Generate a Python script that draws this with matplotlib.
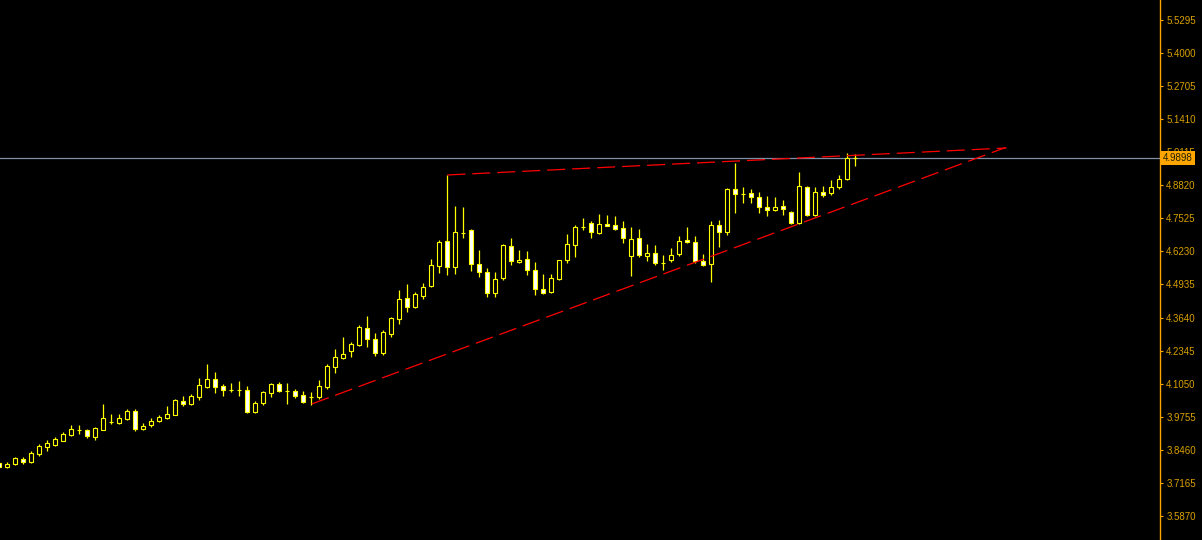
import numpy as np
import matplotlib
matplotlib.use('Agg')
import matplotlib.pyplot as plt
import matplotlib.transforms as mtransforms

plt.rcParams['lines.scale_dashes'] = False

# OHLC, one entry per candle (left to right)
opens = [3.7931, 3.7774, 3.7892, 3.8099, 3.7970, 3.8307, 3.8581, 3.8659, 3.8816, 3.9027,
         3.9235, 3.9223, 3.8961, 3.9247, 3.9548, 3.9509, 3.9666, 3.9979, 3.9286, 3.9443,
         3.9599, 3.9717, 3.9834, 4.0371, 4.0265, 4.0539, 4.0931, 4.1221, 4.0958, 4.0802,
         4.0802, 4.0802, 3.9928, 4.0281, 4.0672, 4.1037, 4.0763, 4.0763, 4.0606, 4.0528,
         4.0528, 4.0931, 4.1714, 4.2067, 4.2341, 4.2564, 4.3218, 4.2788, 4.2263, 4.3007,
         4.3595, 4.4394, 4.4041, 4.4495, 4.4864, 4.5671, 4.6626, 4.5631, 4.6963, 4.7057,
         4.5725, 4.5412, 4.4589, 4.5177, 4.6430, 4.5804, 4.5921, 4.5490, 4.4746, 4.4628,
         4.5138, 4.5882, 4.6470, 4.7198, 4.7331, 4.6940, 4.7292, 4.7253, 4.7135, 4.6039,
         4.6744, 4.6039, 4.6156, 4.5764, 4.5882, 4.6117, 4.6666, 4.6587, 4.5843, 4.5725,
         4.7253, 4.6979, 4.8663, 4.8467, 4.8506, 4.8350, 4.7958, 4.7841, 4.7997, 4.7762,
         4.7331, 4.8742, 4.7645, 4.8546, 4.8506, 4.8742, 4.9055, 4.9877]
highs = [3.7981, 3.7981, 3.8177, 3.8177, 3.8412, 3.8675, 3.8843, 3.8961, 3.9157, 3.9431,
         3.9431, 3.9274, 3.9364, 4.0253, 3.9862, 3.9862, 4.0057, 4.0057, 3.9497, 3.9705,
         3.9822, 4.0175, 4.0461, 4.0567, 4.0633, 4.1272, 4.1820, 4.1507, 4.1037, 4.1076,
         4.1154, 4.0958, 4.0371, 4.0763, 4.1076, 4.1115, 4.1076, 4.0841, 4.0763, 4.0723,
         4.1193, 4.1820, 4.2408, 4.2878, 4.2670, 4.3336, 4.3688, 4.3023, 4.3140, 4.3649,
         4.4707, 4.4942, 4.4629, 4.4981, 4.5933, 4.6677, 4.9223, 4.7997, 4.7958, 4.7089,
         4.6285, 4.5569, 4.5412, 4.6509, 4.6744, 4.6285, 4.6235, 4.5804, 4.5334, 4.5334,
         4.5913, 4.6900, 4.7253, 4.7527, 4.7410, 4.7684, 4.7656, 4.7605, 4.7410, 4.7175,
         4.7096, 4.6509, 4.6470, 4.6078, 4.6352, 4.6822, 4.7175, 4.6822, 4.6117, 4.7410,
         4.7449, 4.8702, 4.9693, 4.8742, 4.8663, 4.8546, 4.8389, 4.8350, 4.8232, 4.7801,
         4.9329, 4.8781, 4.8742, 4.8781, 4.9016, 4.9212, 5.0073, 5.0034]
lows = [3.7746, 3.7746, 3.7864, 3.7915, 3.7942, 3.8228, 3.8424, 3.8608, 3.8804, 3.9000,
        3.9078, 3.8933, 3.8843, 3.9235, 3.9470, 3.9470, 3.9627, 3.9207, 3.9235, 3.9364,
        3.9560, 3.9685, 3.9822, 4.0187, 4.0214, 4.0410, 4.0892, 4.0696, 4.0567, 4.0712,
        4.0578, 3.9901, 3.9901, 4.0214, 4.0539, 4.0723, 4.0265, 4.0488, 4.0292, 4.0214,
        4.0437, 4.0853, 4.1479, 4.2016, 4.2094, 4.2525, 4.2498, 4.2145, 4.2184, 4.2889,
        4.3399, 4.3869, 4.4002, 4.4378, 4.4824, 4.5373, 4.5306, 4.5357, 4.6767, 4.5475,
        4.5240, 4.4433, 4.4456, 4.5122, 4.5710, 4.5764, 4.5318, 4.4511, 4.4562, 4.4589,
        4.5110, 4.5764, 4.6000, 4.7057, 4.6744, 4.6900, 4.7214, 4.7057, 4.6548, 4.5279,
        4.6000, 4.5843, 4.5686, 4.5490, 4.5804, 4.6039, 4.6548, 4.5764, 4.5647, 4.5044,
        4.6391, 4.6861, 4.7747, 4.8115, 4.8138, 4.7723, 4.7605, 4.7801, 4.7645, 4.7292,
        4.7292, 4.7605, 4.7605, 4.8350, 4.8428, 4.8663, 4.9016, 4.9564]
closes = [3.7797, 3.7903, 3.8138, 3.7970, 3.8322, 3.8608, 3.8726, 3.8882, 3.9078, 3.9262,
          3.9235, 3.8988, 3.9313, 3.9705, 3.9548, 3.9705, 3.9979, 3.9286, 3.9392, 3.9587,
          3.9744, 3.9862, 4.0410, 4.0265, 4.0555, 4.0998, 4.1221, 4.0931, 4.0813, 4.0802,
          4.0802, 3.9928, 4.0292, 4.0723, 4.1037, 4.0774, 4.0763, 4.0567, 4.0320, 4.0528,
          4.0958, 4.1742, 4.2094, 4.2200, 4.2592, 4.3258, 4.2811, 4.2263, 4.3062, 4.3610,
          4.4354, 4.4065, 4.4550, 4.4824, 4.5686, 4.6587, 4.5631, 4.6979, 4.6963, 4.5725,
          4.5412, 4.4589, 4.5138, 4.6470, 4.5843, 4.5882, 4.5490, 4.4746, 4.4589, 4.5177,
          4.5882, 4.6509, 4.7175, 4.7198, 4.6979, 4.7292, 4.7214, 4.7096, 4.6744, 4.6705,
          4.6078, 4.6156, 4.5764, 4.5764, 4.6078, 4.6626, 4.6587, 4.5843, 4.5686, 4.7253,
          4.6979, 4.8663, 4.8467, 4.8467, 4.8350, 4.7958, 4.7841, 4.7958, 4.7880, 4.7331,
          4.8781, 4.7645, 4.8546, 4.8428, 4.8742, 4.9055, 4.9877, 4.9898]

# price scale
tick_values = [3.5870, 3.7165, 3.8460, 3.9755, 4.1050, 4.2345, 4.3640, 4.4935,
               4.6230, 4.7525, 4.8820, 5.0115, 5.1410, 5.2705, 5.4000, 5.5295]
y_range = (3.4926, 5.6078)
last_price = 4.9898

# trendlines (bar index, price)
lower_trend = ([39.05, 125.8], [4.0254, 5.0301])
upper_trend = ([56.0, 125.9], [4.9224, 5.0281])

fig = plt.figure(figsize=(12.02, 5.40), dpi=100, facecolor='black')
ax = fig.add_axes([0, 0, 1160 / 1202, 1])
ax.set_facecolor('black')

o = np.array(opens)
h = np.array(highs)
l = np.array(lows)
c = np.array(closes)
idx = np.arange(len(o))

ax.vlines(idx, l, h, color='#FFFF00', lw=0.9, zorder=2)
bottoms = np.minimum(o, c)
heights = np.abs(c - o)
faces = np.where(c < o, 'white', 'black')
ax.bar(idx, heights, width=0.5, bottom=bottoms, color=faces,
       edgecolor='#FFFF00', linewidth=0.8, zorder=3)

ax.axhline(last_price, color='#7F8FA6', lw=0.9, zorder=1)

ax.plot(*lower_trend, color='#FF0000', lw=0.9, ls=(0, (13, 5)), zorder=4)
ax.plot(*upper_trend, color='#FF0000', lw=0.9, ls=(0, (13, 5)), zorder=4)

ax.set_xlim(0.0875, 145.0875)
ax.set_ylim(*y_range)

for s in ['left', 'top', 'bottom']:
    ax.spines[s].set_visible(False)
ax.spines['right'].set_color('#FFA500')
ax.spines['right'].set_linewidth(1.0)

ax.set_xticks([])
ax.yaxis.tick_right()
ax.set_yticks(tick_values)
ax.set_yticklabels(['%.4f' % v for v in tick_values])
ax.tick_params(axis='y', colors='#FFA500', length=2.5, width=0.8, pad=2,
               labelsize=7, labelcolor='#D8A000')
for t in ax.get_yticklabels():
    t.set_family('Liberation Sans')

trans = mtransforms.blended_transform_factory(ax.transAxes, ax.transData)
ax.text(1.0025, last_price, '%.4f' % last_price, transform=trans, ha='left', va='center',
        fontsize=7, family='Liberation Sans', color='#202000', clip_on=False, zorder=10,
        bbox=dict(boxstyle='square,pad=0.2', fc='#FFA500', ec='none'))

fig.savefig('out.png', dpi=100, facecolor='black')
